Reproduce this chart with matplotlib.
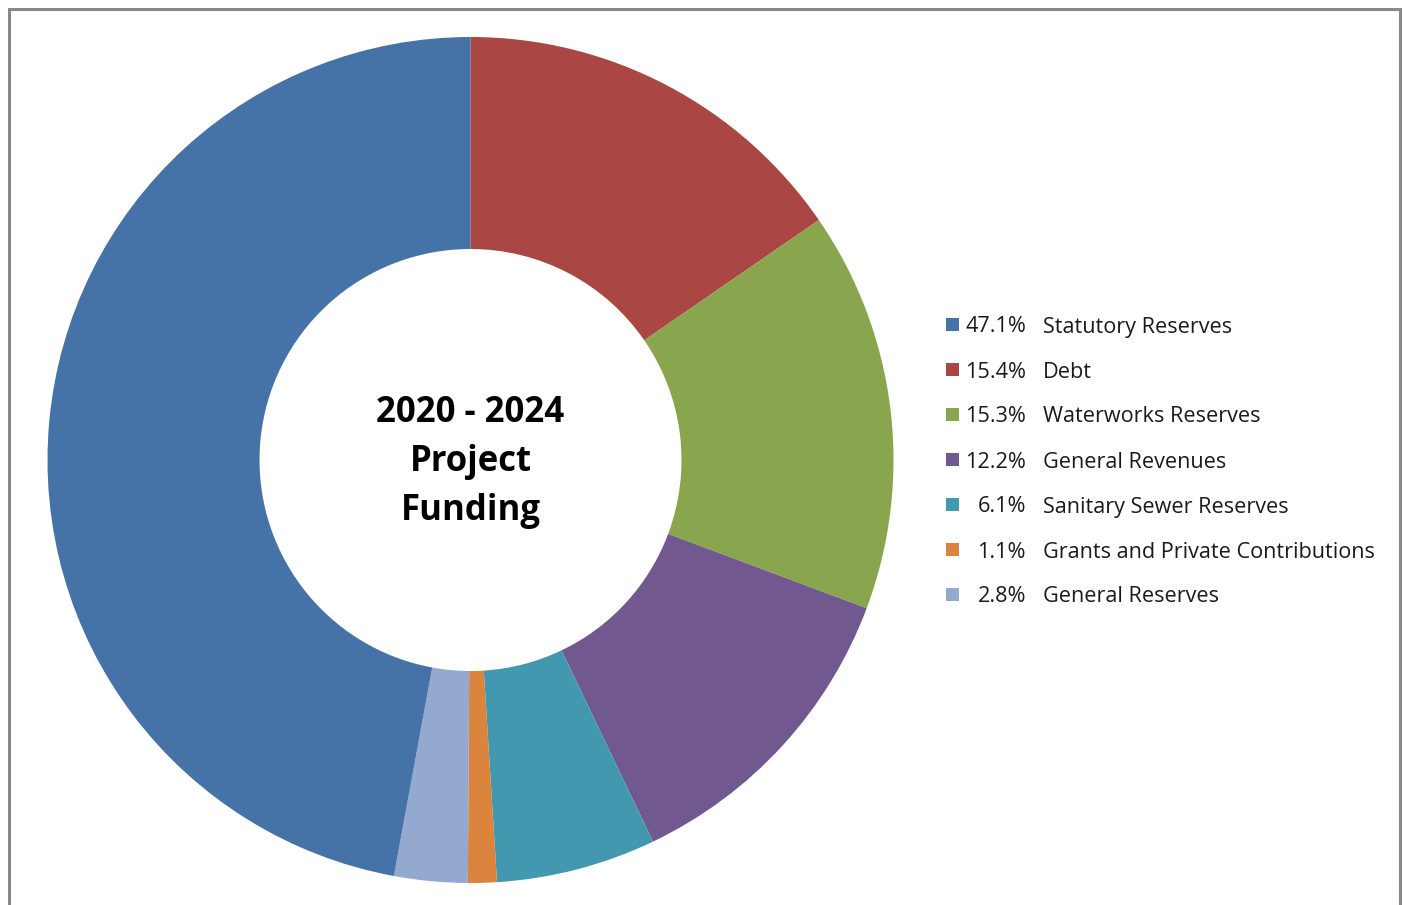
import matplotlib
matplotlib.use("Agg")
import matplotlib.pyplot as plt
from matplotlib.patches import Rectangle

# Data (clockwise from 12 o'clock)
labels = ["Debt", "Waterworks Reserves", "General Revenues", "Sanitary Sewer Reserves",
          "Grants and Private Contributions", "General Reserves", "Statutory Reserves"]
values = [15.4, 15.3, 12.2, 6.1, 1.1, 2.8, 47.1]
colors = ["#AA4643", "#89A54E", "#71588F", "#4198AF", "#DB843D", "#93A9CF", "#4572A7"]

legend_order = ["Statutory Reserves", "Debt", "Waterworks Reserves", "General Revenues",
                "Sanitary Sewer Reserves", "Grants and Private Contributions", "General Reserves"]
title_text = "2020 - 2024\nProject\nFunding"

W, H = 1403, 905
fig = plt.figure(figsize=(W / 100, H / 100), dpi=100)
ax = fig.add_axes([0, 0, 1, 1])
ax.set_xlim(0, W)
ax.set_ylim(0, H)
ax.set_aspect("equal")
ax.axis("off")

cx, cy = 470.5, H - 460
R = 423
ax.pie(values, colors=colors, startangle=90, counterclock=False,
       center=(cx, cy), radius=R,
       wedgeprops=dict(width=212, linewidth=0), frame=True)
ax.set_xlim(0, W)
ax.set_ylim(0, H)
ax.axis("off")

ax.text(cx, cy - 2, title_text, ha="center", va="center", fontsize=25,
        fontweight="bold", family="Open Sans", linespacing=1.49, color="black")

# Frame
ax.plot([9, 9, 1399.5, 1399.5], [0, H - 9, H - 9, 0], color="#888888", lw=2.2,
        solid_joinstyle="miter")

# Legend
row_y = [327, 372, 417, 462, 507, 552, 597]
for lab, py in zip(legend_order, row_y):
    i = labels.index(lab)
    y = H - py
    ax.add_patch(Rectangle((946, y - 4), 13, 13, facecolor=colors[i], edgecolor="none"))
    ax.text(1026, y, f"{values[i]:.1f}%", ha="right", va="center", fontsize=15.6,
            family="Open Sans", color="#1a1a1a")
    ax.text(1043, y, lab, ha="left", va="center", fontsize=15.6,
            family="Open Sans", color="#1a1a1a")

fig.savefig("out.png", dpi=100, facecolor="white")
